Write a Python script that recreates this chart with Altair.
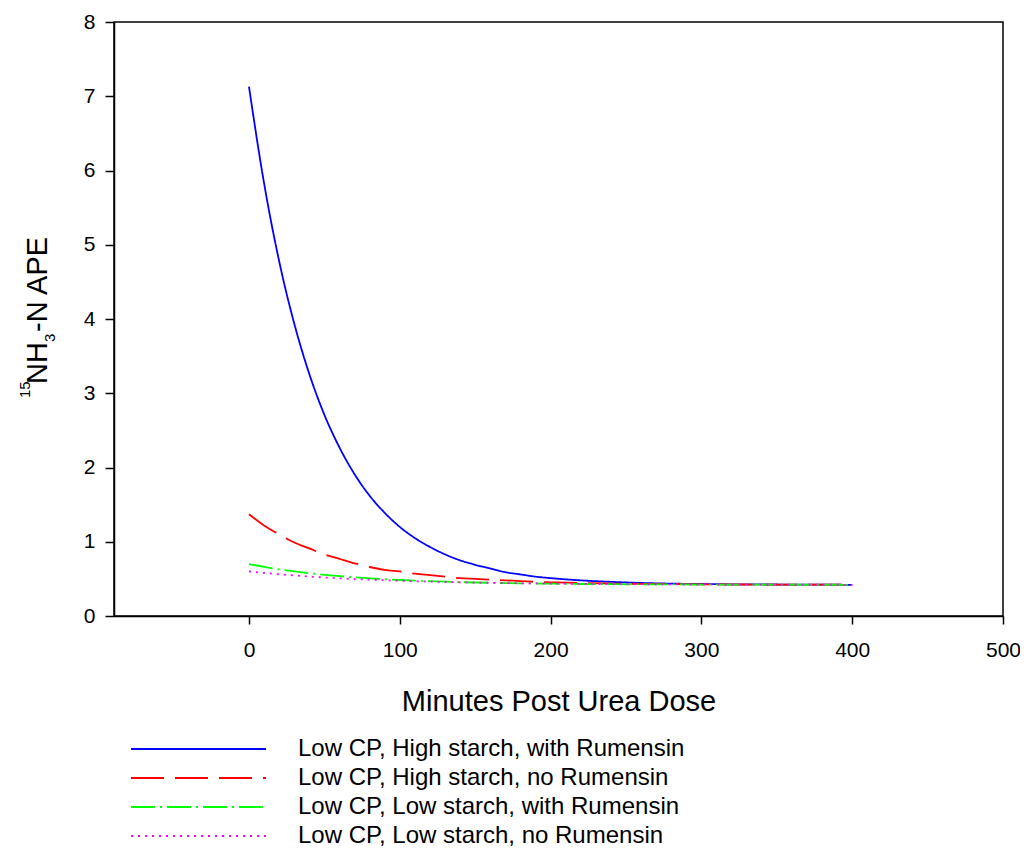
import altair as alt
import pandas as pd

# ---- data ----
minutes = [0, 10, 20, 30, 40, 50, 60, 70, 80, 90, 100, 110, 120, 130, 140, 150,
           160, 170, 180, 190, 200, 220, 240, 260, 280, 300, 325, 350, 375, 400]

hs_rum = [7.13, 5.83, 4.78, 3.94, 3.26, 2.71, 2.27, 1.91, 1.62, 1.39, 1.20, 1.05,
          0.93, 0.83, 0.75, 0.69, 0.64, 0.59, 0.56, 0.53, 0.51, 0.48, 0.46, 0.445,
          0.436, 0.431, 0.426, 0.424, 0.422, 0.42]
hs_norum = [1.37, 1.22, 1.10, 0.99, 0.91, 0.83, 0.77, 0.71, 0.66, 0.62, 0.60, 0.57,
            0.55, 0.53, 0.51, 0.50, 0.49, 0.48, 0.47, 0.46, 0.454, 0.444, 0.437,
            0.433, 0.429, 0.427, 0.424, 0.423, 0.422, 0.42]
ls_rum = [0.70, 0.662, 0.629, 0.601, 0.576, 0.555, 0.537, 0.521, 0.507, 0.495,
          0.485, 0.476, 0.469, 0.462, 0.456, 0.451, 0.447, 0.443, 0.440, 0.438,
          0.435, 0.431, 0.428, 0.426, 0.425, 0.4235, 0.422, 0.4217, 0.421, 0.42]
ls_norum = [0.60, 0.580, 0.562, 0.546, 0.532, 0.519, 0.508, 0.498, 0.489, 0.482,
            0.475, 0.469, 0.463, 0.458, 0.454, 0.450, 0.447, 0.444, 0.441, 0.439,
            0.437, 0.433, 0.430, 0.428, 0.426, 0.425, 0.4237, 0.4228, 0.422, 0.42]

series_names = [
    "Low CP, High starch, with Rumensin",
    "Low CP, High starch, no Rumensin",
    "Low CP, Low starch, with Rumensin",
    "Low CP, Low starch, no Rumensin",
]
series_values = [hs_rum, hs_norum, ls_rum, ls_norum]
series_colors = ["#0000FF", "#FF0000", "#00FF00", "#FF00FF"]
series_dashes = [[1, 0], [33, 11], [24, 5, 2, 5], [2, 5]]

x_ticks = [0, 100, 200, 300, 400, 500]
y_ticks = [0, 1, 2, 3, 4, 5, 6, 7, 8]

rows = []
for name, vals in zip(series_names, series_values):
    for m, v in zip(minutes, vals):
        rows.append({"Minutes": m, "APE": v, "Series": name})
df = pd.DataFrame(rows)

FONT = "Liberation Sans"
W, H = 889, 594
LW = 1.8

lines = alt.Chart(df).mark_line(strokeWidth=LW, interpolate="monotone").encode(
    x=alt.X("Minutes:Q",
            scale=alt.Scale(domain=[-89.5, 500], nice=False, zero=False),
            axis=alt.Axis(values=x_ticks, title="Minutes Post Urea Dose",
                          titleY=94, titleBaseline="alphabetic", labelFlush=False)),
    y=alt.Y("APE:Q",
            scale=alt.Scale(domain=[0, 8], nice=False),
            axis=alt.Axis(values=y_ticks, title=None, tickSize=9, labelPadding=10)),
    color=alt.Color("Series:N",
                    scale=alt.Scale(domain=series_names, range=series_colors),
                    legend=None),
    strokeDash=alt.StrokeDash("Series:N",
                              scale=alt.Scale(domain=series_names, range=series_dashes),
                              legend=None),
    order=alt.Order("Minutes:Q"),
)

one = pd.DataFrame({"k": [0]})


def ytitle_piece(txt, x, y, size):
    return alt.Chart(one).mark_text(
        text=txt, angle=270, align="left", baseline="alphabetic",
        font=FONT, fontSize=size, color="black"
    ).encode(x=alt.value(x), y=alt.value(y))


ytitle = (ytitle_piece("15", -84, 376, 15)
          + ytitle_piece("NH", -67, 362, 29)
          + ytitle_piece("3", -59, 320, 15)
          + ytitle_piece("-N APE", -67, 310, 29))

# ---- legend below the plot (line sample + label per series) ----
legend_rows_y = [727, 756, 785, 814]
legend_layers = []
for name, col, dash, ly in zip(series_names, series_colors, series_dashes, legend_rows_y):
    rule_kwargs = dict(color=col, strokeWidth=LW)
    if dash != [1, 0]:
        rule_kwargs["strokeDash"] = dash
    legend_layers.append(
        alt.Chart(one).mark_rule(**rule_kwargs).encode(
            x=alt.value(17), x2=alt.value(152), y=alt.value(ly))
    )
    legend_layers.append(
        alt.Chart(one).mark_text(text=name, align="left", baseline="middle",
                                 font=FONT, fontSize=24, color="black").encode(
            x=alt.value(184), y=alt.value(ly))
    )

chart = alt.layer(lines, ytitle, *legend_layers).properties(
    width=W, height=H,
    padding={"left": 106, "top": 14, "right": 17, "bottom": 231},
    autosize=alt.AutoSizeParams(type="none"),
).configure(font=FONT).configure_view(
    stroke="black", strokeWidth=1.5
).configure_axis(
    grid=False, domainColor="black", domainWidth=1.5, tickColor="black",
    tickWidth=1.5, tickSize=8, labelColor="black", labelFont=FONT,
    labelFontSize=21, labelPadding=15, titleFont=FONT, titleFontSize=29,
    titleFontWeight="normal", titleColor="black"
)

chart.save("out.html", embed_options={"renderer": "svg", "actions": False})
